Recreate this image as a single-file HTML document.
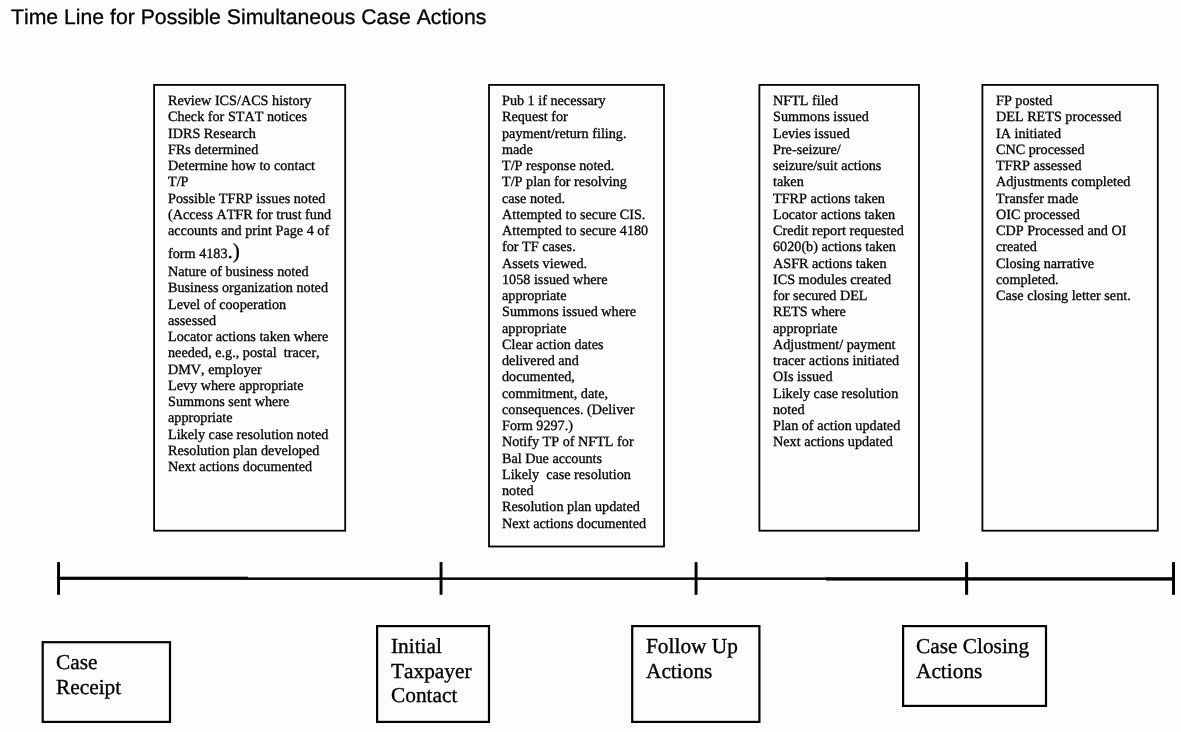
<!DOCTYPE html>
<html>
<head>
<meta charset="utf-8">
<title>Time Line for Possible Simultaneous Case Actions</title>
<style>
html,body{margin:0;padding:0;}
body{width:1181px;height:732px;background:#fcfefb;position:relative;overflow:hidden;color:#000;font-kerning:none;font-variant-ligatures:none;text-rendering:geometricPrecision;}
#art{position:absolute;left:0;top:0;width:1181px;height:732px;}
#title{position:absolute;will-change:transform;left:11px;top:6px;font-family:"Liberation Sans",sans-serif;font-size:21.22px;line-height:24px;-webkit-text-stroke:0.3px #000;white-space:nowrap;}
.t{position:absolute;will-change:transform;font-family:"Liberation Serif",serif;font-size:14.2px;line-height:16.25px;-webkit-text-stroke:0.3px #000;white-space:pre;}
.big{font-size:21.33px;line-height:16.25px;}
.l{position:absolute;will-change:transform;font-family:"Liberation Serif",serif;font-size:21.33px;line-height:24.7px;-webkit-text-stroke:0.35px #000;white-space:pre;}
</style>
</head>
<body>
<svg id="art" width="1181" height="732" viewBox="0 0 1181 732" fill="none" stroke="#000">
  <g stroke-width="1.8">
    <rect x="154.1" y="84.9" width="191.1" height="445.8"/>
    <rect x="489.0" y="84.9" width="175.0" height="461.6"/>
    <rect x="759.4" y="84.9" width="159.6" height="445.8"/>
    <rect x="982.4" y="84.9" width="175.4" height="445.8"/>
  </g>
  <g stroke-width="2.2">
    <rect x="42.7" y="642.2" width="127.3" height="79.7"/>
    <rect x="377.1" y="626.1" width="111.9" height="95.8"/>
    <rect x="632.2" y="626.1" width="127.2" height="95.8"/>
    <rect x="903.1" y="626.1" width="142.9" height="79.8"/>
  </g>
  <g fill="#000" stroke="none">
    <rect x="57.1" y="576.7" width="190.9" height="3.2"/>
    <rect x="247" y="577.4" width="580" height="2.5"/>
    <rect x="826" y="577.2" width="349" height="3.4"/>
    <rect x="57.1" y="562.1" width="2.9" height="32.7"/>
    <rect x="439.6" y="562.1" width="2.9" height="32.7"/>
    <rect x="694.6" y="562.1" width="2.9" height="32.7"/>
    <rect x="965.1" y="562.1" width="3.0" height="32.7"/>
    <rect x="1172.0" y="562.1" width="3.0" height="32.7"/>
  </g>
</svg>

<div id="title">Time Line for Possible Simultaneous Case Actions</div>

<div class="t" id="b1a" style="left:167.7px;top:93px;">Review ICS/ACS history
Check for STAT notices
IDRS Research
FRs determined
Determine how to contact
T/P
Possible TFRP issues noted
(Access ATFR for trust fund
accounts and print Page 4 of</div>
<div class="t" id="b1b" style="left:167.7px;top:243px;">form 4183<span class="big">.)</span></div>
<div class="t" id="b1c" style="left:167.7px;top:263.6px;">Nature of business noted
Business organization noted
Level of cooperation
assessed
Locator actions taken where
needed, e.g., postal  tracer,
DMV, employer
Levy where appropriate
Summons sent where
appropriate
Likely case resolution noted
Resolution plan developed
Next actions documented</div>

<div class="t" id="b2" style="left:502.2px;top:93px;">Pub 1 if necessary
Request for
payment/return filing.
made
T/P response noted.
T/P plan for resolving
case noted.
Attempted to secure CIS.
Attempted to secure 4180
for TF cases.
Assets viewed.
1058 issued where
appropriate
Summons issued where
appropriate
Clear action dates
delivered and
documented,
commitment, date,
consequences. (Deliver
Form 9297.)
Notify TP of NFTL for
Bal Due accounts
Likely  case resolution
noted
Resolution plan updated
Next actions documented</div>

<div class="t" id="b3" style="left:773.3px;top:93px;">NFTL filed
Summons issued
Levies issued
Pre-seizure/
seizure/suit actions
taken
TFRP actions taken
Locator actions taken
Credit report requested
6020(b) actions taken
ASFR actions taken
ICS modules created
for secured DEL
RETS where
appropriate
Adjustment/ payment
tracer actions initiated
OIs issued
Likely case resolution
noted
Plan of action updated
Next actions updated</div>

<div class="t" id="b4" style="left:996px;top:93px;">FP posted
DEL RETS processed
IA initiated
CNC processed
TFRP assessed
Adjustments completed
Transfer made
OIC processed
CDP Processed and OI
created
Closing narrative
completed.
Case closing letter sent.</div>

<div class="l" id="l1" style="left:56px;top:649.7px;">Case
Receipt</div>
<div class="l" id="l2" style="left:390.7px;top:634.3px;">Initial
Taxpayer
Contact</div>
<div class="l" id="l3" style="left:645.8px;top:634.3px;">Follow Up
Actions</div>
<div class="l" id="l4" style="left:916.2px;top:634.3px;">Case Closing
Actions</div>
</body>
</html>
